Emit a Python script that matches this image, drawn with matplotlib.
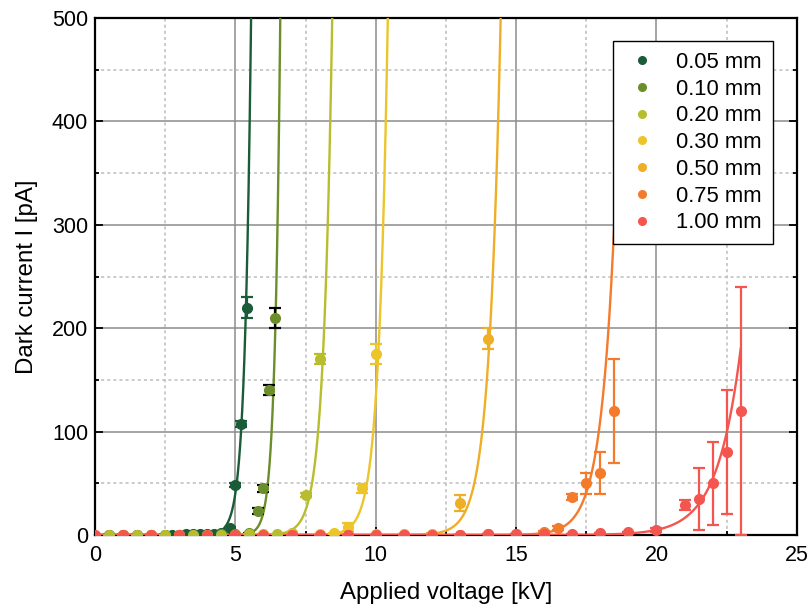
import matplotlib
matplotlib.use("Agg")
import matplotlib.pyplot as plt
import numpy as np

plt.rcParams['font.family'] = ['Liberation Sans', 'DejaVu Sans']

labels = ["0.05 mm", "0.10 mm", "0.20 mm", "0.30 mm", "0.50 mm", "0.75 mm", "1.00 mm"]
colors = ["#1a5c38", "#6b8e2b", "#b8bd2d", "#ecc52b", "#efae27", "#f47b2b", "#f5554f"]
err_colors = ["#1a5c38", "black", "#b8bd2d", "#ecc52b", "#efae27", "#f47b2b", "#f5554f"]

# measured points: voltage [kV], current [pA], error [pA]
v005 = [0.5, 1.0, 1.5, 2.0, 2.5, 2.75, 3.0, 3.25, 3.5, 3.75, 4.0, 4.25, 4.5, 4.8, 5.0, 5.2, 5.4]
i005 = [0.3, 0.3, 0.3, 0.3, 0.4, 0.4, 0.4, 0.5, 0.5, 0.6, 0.7, 0.9, 1.5, 7, 48, 107, 220]
e005 = [0, 0, 0, 0, 0, 0, 0, 0, 0, 0, 0, 0, 0.5, 1, 2, 3, 10]

v010 = [0.5, 1.0, 1.5, 2.0, 2.5, 3.0, 3.5, 4.0, 4.5, 5.0, 5.5, 5.8, 6.0, 6.2, 6.4]
i010 = [0.3, 0.3, 0.3, 0.3, 0.3, 0.3, 0.4, 0.4, 0.5, 0.6, 1.5, 23, 45, 140, 210]
e010 = [0, 0, 0, 0, 0, 0, 0, 0, 0, 0, 0.5, 3, 3, 5, 10]

v020 = [0.5, 1.5, 2.5, 3.5, 4.5, 5.5, 6.0, 6.5, 7.0, 7.5, 8.0]
i020 = [0.3, 0.3, 0.3, 0.3, 0.4, 0.5, 0.6, 0.8, 2, 39, 170]
e020 = [0, 0, 0, 0, 0, 0, 0, 0, 0.5, 2, 5]

v030 = [1, 2, 3, 4, 5, 6, 7, 8, 8.5, 9.0, 9.5, 10.0]
i030 = [0.3, 0.3, 0.3, 0.3, 0.3, 0.4, 0.5, 0.8, 1.5, 8, 45, 175]
e030 = [0, 0, 0, 0, 0, 0, 0, 0, 0.5, 4, 4, 10]

v050 = [1, 2, 3, 4, 5, 6, 7, 8, 9, 10, 11, 12, 13, 14]
i050 = [0.3, 0.3, 0.3, 0.3, 0.3, 0.3, 0.3, 0.4, 0.4, 0.5, 0.6, 1.2, 31, 190]
e050 = [0, 0, 0, 0, 0, 0, 0, 0, 0, 0, 0, 0.5, 8, 10]

v075 = [1, 3, 5, 7, 9, 11, 13, 14, 15, 16, 16.5, 17, 17.5, 18, 18.5]
i075 = [0.3, 0.3, 0.3, 0.3, 0.3, 0.3, 0.4, 0.5, 0.8, 3, 7, 37, 50, 60, 120]
e075 = [0, 0, 0, 0, 0, 0, 0, 0, 0, 1, 2, 3, 10, 20, 50]

v100 = [0, 1, 2, 3, 4, 5, 6, 7, 8, 9, 10, 11, 12, 13, 14, 15, 16, 17, 18, 19, 20, 21, 21.5, 22, 22.5, 23]
i100 = [0.3, 0.3, 0.3, 0.3, 0.3, 0.3, 0.3, 0.3, 0.3, 0.3, 0.3, 0.4, 0.4, 0.4, 0.5, 0.6, 0.8, 1.0, 1.5, 2.5, 4.5, 29, 35, 50, 80, 120]
e100 = [0] * 20 + [2, 5, 30, 40, 60, 120]

volts = [v005, v010, v020, v030, v050, v075, v100]
currents = [i005, i010, i020, i030, i050, i075, i100]
errors = [e005, e010, e020, e030, e050, e075, e100]

# exponential fits: I = 500 * exp(rate * (V - v_at_500))
fit_rate = [4.5, 5.2, 3.2, 3.1, 2.45, 2.0, 1.2]
fit_v500 = [5.56, 6.60, 8.45, 10.43, 14.45, 18.75, 23.85]
fit_vmax = [5.7, 6.7, 8.6, 10.6, 14.6, 18.55, 23.0]

fig = plt.figure(figsize=(8.09, 6.05), dpi=100)
ax = fig.add_axes([0.1174, 0.1157, 0.8676, 0.8545])

for k in range(len(labels)):
    vv = np.linspace(0, fit_vmax[k], 600)
    ax.plot(vv, 500 * np.exp(fit_rate[k] * (vv - fit_v500[k])), color=colors[k], lw=1.7, zorder=3)
    ax.errorbar(volts[k], currents[k], yerr=errors[k], fmt='o', color=colors[k],
                ecolor=err_colors[k], ms=7, elinewidth=1.6, capsize=4.5, capthick=1.6,
                label=labels[k], zorder=4)

ax.set_xlim(0, 25)
ax.set_ylim(0, 500)
ax.set_xticks([0, 5, 10, 15, 20, 25])
ax.set_yticks([0, 100, 200, 300, 400, 500])
ax.set_xticks(np.arange(2.5, 25, 5), minor=True)
ax.set_yticks(np.arange(50, 500, 100), minor=True)
ax.grid(which='major', color='#8c8c8c', lw=1.1, ls='-')
ax.grid(which='minor', color='#bdbdbd', lw=1.1, ls=(0, (2, 2)))
ax.set_axisbelow(True)
ax.tick_params(which='both', direction='in', right=True, top=False, labelsize=15.5, width=1.3)
ax.tick_params(which='major', length=6)
ax.tick_params(which='minor', length=3)
ax.tick_params(axis='x', pad=7)
ax.tick_params(axis='y', pad=5)
for s in ax.spines.values():
    s.set_linewidth(1.6)

ax.set_xlabel("Applied voltage [kV]", fontsize=17.3, labelpad=12)
ax.set_ylabel("Dark current I [pA]", fontsize=17.3, labelpad=10)

handles = [plt.Line2D([], [], ls='none', marker='o', ms=5.5, color=c) for c in colors]
leg = ax.legend(handles, labels, loc='upper right', bbox_to_anchor=(0.966, 0.9555), fontsize=15.8,
                frameon=True, fancybox=False, edgecolor='black', framealpha=1, borderaxespad=0,
                handletextpad=0.7, labelspacing=0.26, borderpad=0.5, handlelength=1.7)
leg.get_frame().set_linewidth(1.0)

fig.savefig("out.png", dpi=100)
